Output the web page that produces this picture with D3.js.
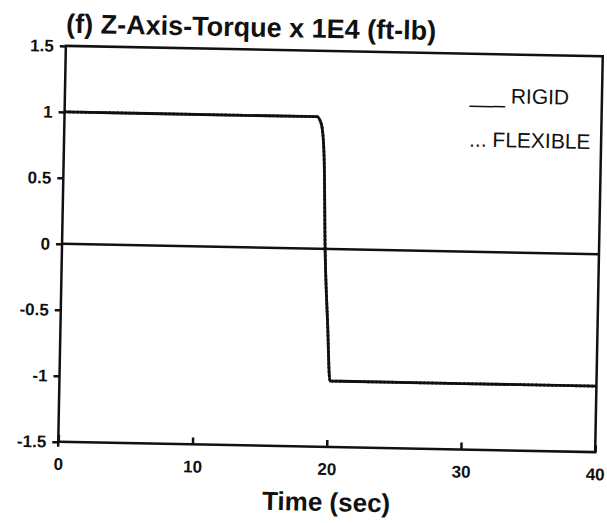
<!DOCTYPE html>
<html>
<head>
<meta charset="utf-8">
<script src="https://cdn.jsdelivr.net/npm/d3@7"></script>
<style>
  body { margin: 0; background: #fff; }
  svg { display: block; }
</style>
</head>
<body>
<svg width="607" height="523"></svg>
<script>

// values
const timeSec = [0, 18.8, 19.15, 19.4, 19.6, 19.9, 20.15, 40]
const rigidTorque = [1, 1, 0.94, 0.68, 0, -0.58, -1, -1]
const flexibleTorque = [1, 1, 0.94, 0.68, 0, -0.58, -1, -1]
const zeroLine = [0, 0]
const zeroTime = [0, 40]

const xTicks = [0, 10, 20, 30, 40]
const yTicks = [-1.5, -1, -0.5, 0, 0.5, 1, 1.5]

const titleText = '(f) Z-Axis-Torque x 1E4 (ft-lb)'
const xLabel = 'Time (sec)'
const legendLabels = ['___ RIGID', '... FLEXIBLE']

const ink = '#111'

const svg = d3.select('svg')

svg.append('rect')
    .attr('width', 607)
    .attr('height', 523)
    .attr('fill', '#fff')

// the scan is tilted a little clockwise
const g = svg
    .append('g')
        .attr('transform', 'rotate(1.1 330 249)')

const x = d3.scaleLinear()
    .domain([0, 40])
    .range([62, 599])

const y = d3.scaleLinear()
    .domain([-1.5, 1.5])
    .range([447, 51])

// frame
g.append('rect')
    .attr('x', x(0))
    .attr('y', y(1.5))
    .attr('width', x(40) - x(0))
    .attr('height', y(-1.5) - y(1.5))
    .attr('fill', 'none')
    .attr('stroke', ink)
    .attr('stroke-width', 2.5)

// left axis runs a bit past the bottom
g.append('line')
    .attr('x1', x(0))
    .attr('x2', x(0))
    .attr('y1', y(-1.5))
    .attr('y2', y(-1.5) + 5)
    .attr('stroke', ink)
    .attr('stroke-width', 2.5)

const yAxis = g.append('g')
    .attr('transform', `translate(${x(0)},0)`)
    .call(d3.axisLeft(y)
        .tickValues(yTicks)
        .tickFormat(d => String(d))
        .tickSize(6)
        .tickSizeOuter(0)
        .tickPadding(6))

yAxis.select('.domain').remove()
yAxis.selectAll('line')
    .attr('stroke', ink)
    .attr('stroke-width', 2.5)
yAxis.selectAll('text')
    .attr('fill', ink)
    .style('font-family', '"Liberation Sans", Arial, sans-serif')
    .style('font-weight', 'bold')
    .style('font-size', '17px')

const xAxis = g.append('g')
    .attr('transform', `translate(0,${y(-1.5)})`)
    .call(d3.axisBottom(x)
        .tickValues(xTicks)
        .tickFormat(d => String(d))
        .tickSize(-7)
        .tickSizeOuter(0)
        .tickPadding(16))

xAxis.select('.domain').remove()
xAxis.selectAll('line')
    .attr('stroke', ink)
    .attr('stroke-width', 2.5)
xAxis.selectAll('text')
    .attr('fill', ink)
    .style('font-family', '"Liberation Sans", Arial, sans-serif')
    .style('font-weight', 'bold')
    .style('font-size', '17px')

const line = d3.line()
    .x(d => x(d[0]))
    .y(d => y(d[1]))

const lineCurve = d3.line()
    .x(d => x(d[0]))
    .y(d => y(d[1]))
    .curve(d3.curveMonotoneX)

// zero reference
g.append('path')
    .attr('d', line(d3.zip(zeroTime, zeroLine)))
    .attr('fill', 'none')
    .attr('stroke', ink)
    .attr('stroke-width', 2.5)

const rigid = g.append('path')
    .attr('d', lineCurve(d3.zip(timeSec, rigidTorque)))
    .attr('fill', 'none')
    .attr('stroke', ink)
    .attr('stroke-width', 2.8)

const flexible = g.append('path')
    .attr('d', lineCurve(d3.zip(timeSec, flexibleTorque)))
    .attr('fill', 'none')
    .attr('stroke', ink)
    .attr('stroke-width', 2.8)
    .attr('stroke-dasharray', '2,2')

// title
g.append('text')
    .attr('x', 62)
    .attr('y', 38)
    .attr('fill', ink)
    .style('font-family', '"Liberation Sans", Arial, sans-serif')
    .style('font-weight', 'bold')
    .style('font-size', '27px')
    .text(titleText)

// x label
g.append('text')
    .attr('x', 331)
    .attr('y', 511)
    .attr('text-anchor', 'middle')
    .attr('fill', ink)
    .style('font-family', '"Liberation Sans", Arial, sans-serif')
    .style('font-weight', 'bold')
    .style('font-size', '26px')
    .text(xLabel)

// legend
g.selectAll('.legend')
    .data(legendLabels)
    .join('text')
        .attr('class', 'legend')
        .attr('x', 467)
        .attr('y', (d, i) => 100 + i * 44)
        .attr('fill', ink)
        .style('font-family', '"Liberation Sans", Arial, sans-serif')
        .style('font-size', '21px')
        .text(d => d)

</script>
</body>
</html>
